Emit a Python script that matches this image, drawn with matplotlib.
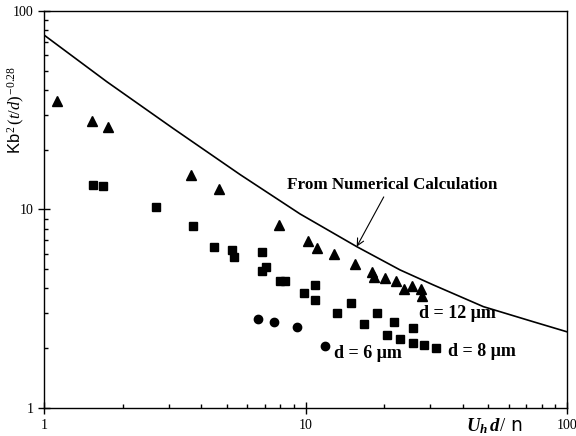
import matplotlib
matplotlib.use("Agg")
import matplotlib.pyplot as plt
from matplotlib.ticker import LogLocator, NullFormatter, FixedLocator, FixedFormatter

plt.rcParams['mathtext.fontset'] = 'custom'
plt.rcParams['mathtext.rm'] = 'Liberation Serif'
plt.rcParams['mathtext.it'] = 'Liberation Serif:italic'
plt.rcParams['mathtext.bf'] = 'Liberation Serif:bold'
try:
    plt.rcParams['mathtext.bfit'] = 'Liberation Serif:bold:italic'
except KeyError:
    pass

# d = 12 um (triangles)
tri_x = [1.12, 1.53, 1.76, 3.65, 4.67, 7.92, 10.2, 11.1, 12.9, 15.5, 17.9, 18.2,
         20.1, 22.2, 23.8, 25.5, 27.7, 27.9]
tri_y = [35.2, 27.9, 26.0, 14.9, 12.7, 8.35, 6.94, 6.40, 5.97, 5.31, 4.84, 4.57,
         4.52, 4.36, 3.98, 4.12, 3.98, 3.67]

# d = 8 um (squares)
sq_x = [1.54, 1.68, 2.68, 3.71, 4.47, 5.24, 5.33, 6.82, 7.06, 6.82, 7.99, 8.35,
        10.9, 9.87, 10.9, 14.9, 13.2, 18.8, 16.7, 21.8, 20.5, 23.0, 25.8, 25.8,
        28.4, 31.6]
sq_y = [13.3, 13.1, 10.3, 8.26, 6.47, 6.25, 5.76, 6.11, 5.13, 4.90, 4.36, 4.36,
        4.17, 3.80, 3.50, 3.38, 3.01, 3.01, 2.65, 2.71, 2.33, 2.23, 2.53, 2.13,
        2.08, 2.01]

# d = 6 um (circles)
ci_x = [6.58, 7.58, 9.28, 11.9]
ci_y = [2.81, 2.71, 2.56, 2.05]

# Numerical calculation curve
num_x = [1.0, 1.74, 3.12, 5.62, 9.53, 15.7, 23.0, 30.8, 47.9, 74.3, 100.0]
num_y = [75.7, 44.0, 25.6, 15.0, 9.5, 6.5, 4.96, 4.17, 3.24, 2.72, 2.42]

fig = plt.figure(figsize=(5.76, 4.36), dpi=100)
ax = fig.add_axes([44/576, 28/436, 523/576, 397/436])

ax.plot(num_x, num_y, color='black', lw=1.2)
ax.plot(tri_x, tri_y, '^', color='black', ms=7, ls='none')
ax.plot(sq_x, sq_y, 's', color='black', ms=6.3, ls='none')
ax.plot(ci_x, ci_y, 'o', color='black', ms=6, ls='none')

ax.set_xscale('log')
ax.set_yscale('log')
ax.set_xlim(1, 100)
ax.set_ylim(1, 100)

serif = 'Liberation Serif'
ax.xaxis.set_major_locator(FixedLocator([1, 10, 100]))
ax.xaxis.set_major_formatter(FixedFormatter(['1', '10', '100']))
ax.yaxis.set_major_locator(FixedLocator([1, 10, 100]))
ax.yaxis.set_major_formatter(FixedFormatter(['1', '10', '100']))
ax.xaxis.set_minor_locator(LogLocator(base=10, subs=range(2, 10)))
ax.yaxis.set_minor_locator(LogLocator(base=10, subs=range(2, 10)))
ax.xaxis.set_minor_formatter(NullFormatter())
ax.yaxis.set_minor_formatter(NullFormatter())
ax.tick_params(which='major', direction='inout', length=8, width=1, labelsize=10)
ax.tick_params(which='minor', direction='in', length=3, width=1)
ax.tick_params(axis='x', which='major', pad=4)
for lab in ax.get_xticklabels() + ax.get_yticklabels():
    lab.set_fontfamily(serif)
for s in ax.spines.values():
    s.set_linewidth(1.0)

ax.annotate('From Numerical Calculation', xy=(15.7, 6.5), xycoords='data',
            xytext=(8.5, 13.3), textcoords='data',
            fontsize=12.3, fontweight='bold', family=serif, ha='left', va='center',
            arrowprops=dict(arrowstyle='->', color='black', lw=0.8,
                            shrinkA=1, shrinkB=0, relpos=(0.47, 0.0)))

ax.text(27.2, 3.01, 'd = 12 \u03bcm', fontsize=13, fontweight='bold', family=serif,
        ha='left', va='center')
ax.text(35.1, 1.915, 'd = 8 \u03bcm', fontsize=13, fontweight='bold', family=serif,
        ha='left', va='center')
ax.text(12.85, 1.89, 'd = 6 \u03bcm', fontsize=13, fontweight='bold', family=serif,
        ha='left', va='center')

fig.text(494/576, 1 - 426/436, r'$\mathbfit{U}_{\mathbfit{h}}\,\mathbfit{d}/$ n',
         fontsize=13.5, family='DejaVu Sans', ha='center', va='center')

fig.text(16/576, 1 - 110/436, r'Kb$^{\,2\,}(\mathit{t/d})^{\,\mathrm{-0.28}}$',
         fontsize=12, family='Liberation Sans', rotation=90, ha='center', va='center')

fig.savefig('out.png', dpi=100)
